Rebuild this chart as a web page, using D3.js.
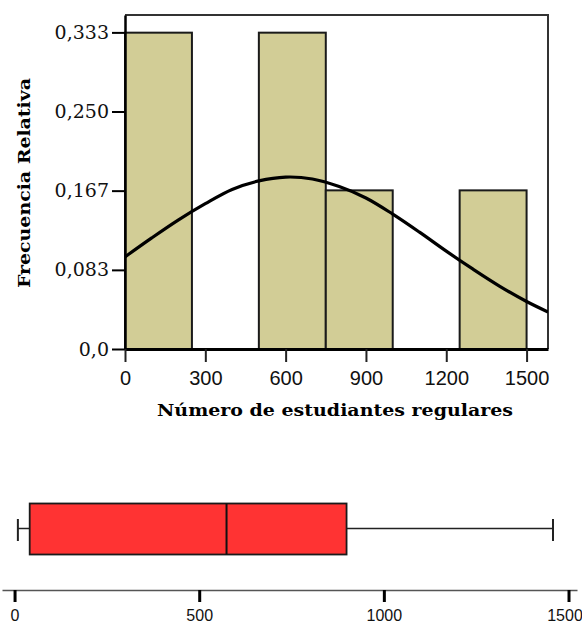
<!DOCTYPE html>
<html><head><meta charset="utf-8">
<script src="https://cdn.jsdelivr.net/npm/d3@7"></script>
<style>body{margin:0;background:#fff}svg{display:block}</style>
</head><body>
<svg id="c" width="582" height="628"></svg>
<script>
// Histogram bins (number of regular students) and relative frequencies
const binStart = [0, 500, 750, 1250];
const binEnd   = [250, 750, 1000, 1500];
const relFreq  = [0.333, 0.333, 0.167, 0.167];
const yTickValues = [0, 0.0833, 0.1667, 0.25, 0.3333];
const yTickLabels = ["0,0", "0,083", "0,167", "0,250", "0,333"];
const xTickValues = [0, 300, 600, 900, 1200, 1500];
// Fitted normal curve
const curveX = [0,100,200,300,400,500,600,700,800,900,1000,1100,1200,1300,1400,1500,1580];
const curveY = [0.097,0.117,0.136,0.153,0.168,0.177,0.181,0.179,0.171,0.159,0.142,0.123,0.103,0.084,0.066,0.050,0.039];
// Box plot summary
const boxMin = 9, boxQ1 = 41, boxMedian = 574, boxQ3 = 899, boxMax = 1458;
const boxTickValues = [0, 500, 1000, 1500];

const svg = d3.select("#c");

const xH = d3.scaleLinear().domain([0, 1580]).range([125, 548]);
const yH = d3.scaleLinear().domain([0, 0.3516]).range([349, 15]);

svg.append("clipPath").attr("id","pc").append("rect")
  .attr("x",125).attr("y",15).attr("width",423).attr("height",334);

// frame top/right
svg.append("path").attr("d",`M${xH(0)},${yH.range()[1]}H${xH(1580)}V${yH(0)}`)
  .attr("fill","none").attr("stroke","#333").attr("stroke-width",2);

// bars
svg.append("g").selectAll("rect").data(relFreq).join("rect")
  .attr("x",(d,i)=>xH(binStart[i]))
  .attr("y",d=>yH(d))
  .attr("width",(d,i)=>xH(binEnd[i])-xH(binStart[i]))
  .attr("height",d=>yH(0)-yH(d))
  .attr("fill","#D2CD96").attr("stroke","#1a1a1a").attr("stroke-width",2);

// curve
const line = d3.line().x((d,i)=>xH(curveX[i])).y(d=>yH(d)).curve(d3.curveCatmullRom);
svg.append("path").datum(curveY).attr("d",line).attr("clip-path","url(#pc)")
  .attr("fill","none").attr("stroke","#000").attr("stroke-width",3.2);

// y axis
const yAxis = d3.axisLeft(yH).tickValues(yTickValues).tickSize(13).tickSizeOuter(0)
  .tickFormat((d,i)=>yTickLabels[i]);
const gy = svg.append("g").attr("transform",`translate(${xH(0)},0)`).call(yAxis);
gy.select(".domain").attr("stroke","#000").attr("stroke-width",2.5);
gy.selectAll(".tick line").attr("stroke","#000").attr("stroke-width",2);
gy.selectAll(".tick text").attr("font-family","DejaVu Serif").attr("font-size",19)
  .attr("fill","#111").attr("x",-16);

// x axis
const xAxis = d3.axisBottom(xH).tickValues(xTickValues).tickSize(13).tickSizeOuter(0).tickFormat(d3.format("d"));
const gx = svg.append("g").attr("transform",`translate(0,${yH(0)})`).call(xAxis);
gx.select(".domain").attr("stroke","#000").attr("stroke-width",3);
gx.selectAll(".tick line").attr("stroke","#222").attr("stroke-width",2);
gx.selectAll(".tick text").attr("font-family","Liberation Sans").attr("font-size",20)
  .attr("fill","#111").attr("y",22);

// axis titles
svg.append("text").attr("transform","translate(24,183) rotate(-90)")
  .attr("text-anchor","middle").attr("dominant-baseline","central")
  .attr("font-family","DejaVu Serif").attr("font-weight","bold")
  .attr("font-size",16).attr("textLength",210).attr("lengthAdjust","spacingAndGlyphs")
  .text("Frecuencia Relativa");
svg.append("text").attr("x",335).attr("y",416).attr("text-anchor","middle")
  .attr("font-family","DejaVu Serif").attr("font-weight","bold")
  .attr("font-size",17).attr("textLength",356).attr("lengthAdjust","spacingAndGlyphs")
  .text("Número de estudiantes regulares");

// Box plot
const xB = d3.scaleLinear().domain([-34, 1523]).range([2, 577]);
const yMid = 528.5, boxTop = 503.5, boxBot = 554.5;
const gb = svg.append("g");
gb.append("line").attr("x1",xB(boxMin)).attr("x2",xB(boxQ1)).attr("y1",yMid).attr("y2",yMid)
  .attr("stroke","#222").attr("stroke-width",1.5);
gb.append("line").attr("x1",xB(boxQ3)).attr("x2",xB(boxMax)).attr("y1",yMid).attr("y2",yMid)
  .attr("stroke","#222").attr("stroke-width",1.5);
[boxMin, boxMax].forEach(v=>gb.append("line").attr("x1",xB(v)).attr("x2",xB(v))
  .attr("y1",519).attr("y2",541).attr("stroke","#222").attr("stroke-width",2));
gb.append("rect").attr("x",xB(boxQ1)).attr("y",boxTop).attr("width",xB(boxQ3)-xB(boxQ1))
  .attr("height",boxBot-boxTop).attr("fill","#FF3333").attr("stroke","#1a1a1a").attr("stroke-width",1.8);
gb.append("line").attr("x1",xB(boxMedian)).attr("x2",xB(boxMedian)).attr("y1",boxTop).attr("y2",boxBot)
  .attr("stroke","#111").attr("stroke-width",2);

const bAxis = d3.axisBottom(xB).tickValues(boxTickValues).tickSize(12).tickSizeOuter(0).tickFormat(d3.format("d"));
const gba = svg.append("g").attr("transform","translate(0,590)").call(bAxis);
gba.select(".domain").attr("stroke","#555").attr("stroke-width",1.5);
gba.selectAll(".tick line").attr("stroke","#000").attr("stroke-width",3);
gba.selectAll(".tick text").attr("font-family","Liberation Sans").attr("font-size",16)
  .attr("fill","#111").attr("y",20)
  .attr("dx",d=>d===1500 ? -4 : 0);
</script>
</body></html>
